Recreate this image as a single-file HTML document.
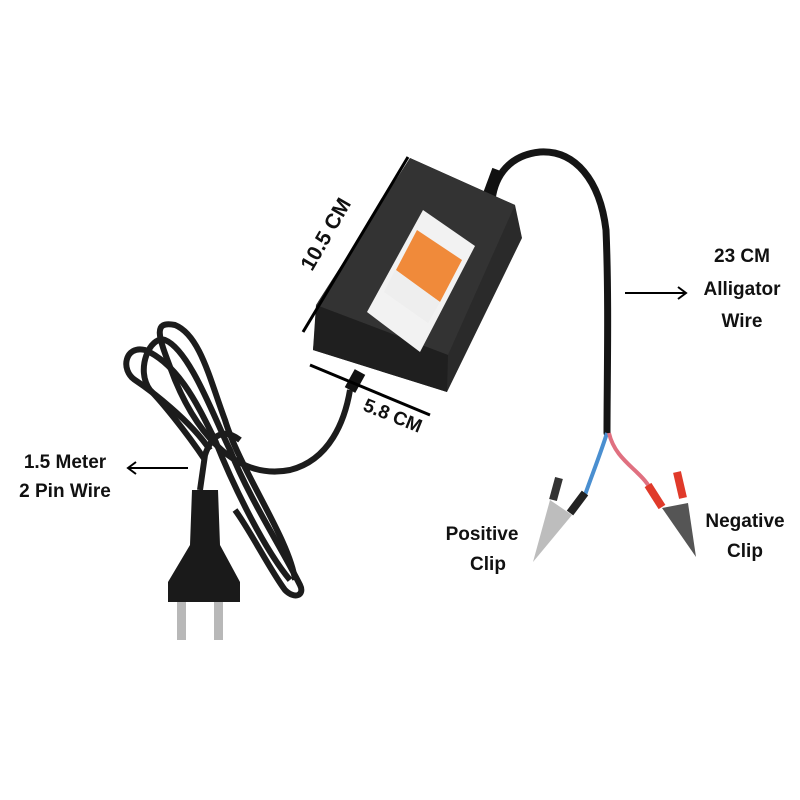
<!DOCTYPE html>
<html><head><meta charset="utf-8"><style>
html,body{margin:0;padding:0;background:#fff;}
svg{display:block}
text{font-family:"Liberation Sans",sans-serif;font-weight:bold;fill:#111}
</style></head><body>
<svg width="800" height="800" viewBox="0 0 800 800" xmlns="http://www.w3.org/2000/svg">
<rect width="800" height="800" fill="#fff"/>
<path d="M492,200 C495,175 510,155 540,152 C575,150 600,180 606,230 C609,300 607,380 607,433" fill="none" stroke="#151515" stroke-width="7" stroke-linecap="round"/>
<path d="M485,205 L498,170" stroke="#111" stroke-width="12"/>
<g fill="none" stroke="#1c1c1c" stroke-width="6">
<path d="M350,390 C345,420 330,460 290,470 C240,480 200,440 175,380 C160,340 150,320 175,325 C200,335 210,380 225,420 C240,470 290,540 295,580"/>
<path d="M210,450 C190,420 150,390 135,380 C120,370 125,345 145,350 C180,365 200,410 215,440 C235,490 265,550 290,580"/>
<path d="M205,460 C185,430 160,400 150,390 C135,370 150,335 165,340 C190,350 215,420 230,450 C250,500 280,545 300,585 C305,595 295,600 285,590 C270,570 250,530 235,510"/>
<path d="M200,490 L205,455 C210,440 220,425 240,440"/>
</g>
<path d="M350,390 L360,372" stroke="#111" stroke-width="12"/>
<polygon points="410,158 515,205 522,238 447,392 313,350 318,302" fill="#2a2a2a"/>
<polygon points="410,158 515,205 448,355 316,305" fill="#333"/>
<polygon points="316,305 448,355 447,392 313,350" fill="#1f1f1f"/>
<polygon points="423,210 475,246 420,352 367,312" fill="#f2f2f2"/>
<polygon points="417,230 462,260 440,302 396,270" fill="#f08a3a"/>
<polygon points="395,270 440,302 428,323 384,292" fill="#eee"/>
<path d="M192,490 L218,490 L220,545 L240,582 L240,602 L168,602 L168,582 L190,545 Z" fill="#1a1a1a"/>
<rect x="177" y="602" width="9" height="38" fill="#b8b8b8"/>
<rect x="214" y="602" width="9" height="38" fill="#b8b8b8"/>
<path d="M607,433 C600,455 592,475 585,495" fill="none" stroke="#4a8fd0" stroke-width="4"/>
<path d="M609,433 C615,460 640,470 650,488" fill="none" stroke="#e07080" stroke-width="4"/>
<path d="M585,493 L570,513" stroke="#222" stroke-width="8"/>
<path d="M648,485 L662,507" stroke="#e03a2a" stroke-width="8"/>
<path d="M559,478 L553,500" stroke="#333" stroke-width="8"/>
<polygon points="550,500 572,515 533,562" fill="#bdbdbd"/>
<path d="M677,472 L683,498" stroke="#e03a2a" stroke-width="8"/>
<polygon points="662,508 688,503 696,557" fill="#555"/>
<line x1="408" y1="157" x2="303" y2="332" stroke="#000" stroke-width="3"/>
<line x1="310" y1="365" x2="430" y2="415" stroke="#000" stroke-width="3"/>
<text transform="translate(312,272) rotate(-60)" font-size="21">10.5 CM</text>
<text transform="translate(362,410) rotate(22)" font-size="19">5.8 CM</text>
<line x1="625" y1="293" x2="685" y2="293" stroke="#000" stroke-width="2"/>
<polyline points="678,287 686,293 678,299" fill="none" stroke="#000" stroke-width="2"/>
<line x1="128" y1="468" x2="188" y2="468" stroke="#000" stroke-width="2"/>
<polyline points="136,462 128,468 136,474" fill="none" stroke="#000" stroke-width="2"/>
<text x="742" y="262" font-size="19" text-anchor="middle">23 CM</text>
<text x="742" y="295" font-size="19" text-anchor="middle">Alligator</text>
<text x="742" y="327" font-size="19" text-anchor="middle">Wire</text>
<text x="65" y="468" font-size="19" text-anchor="middle">1.5 Meter</text>
<text x="65" y="497" font-size="19" text-anchor="middle">2 Pin Wire</text>
<text x="482" y="540" font-size="19" text-anchor="middle">Positive</text>
<text x="488" y="570" font-size="19" text-anchor="middle">Clip</text>
<text x="745" y="527" font-size="19" text-anchor="middle">Negative</text>
<text x="745" y="557" font-size="19" text-anchor="middle">Clip</text>
</svg>
</body></html>
